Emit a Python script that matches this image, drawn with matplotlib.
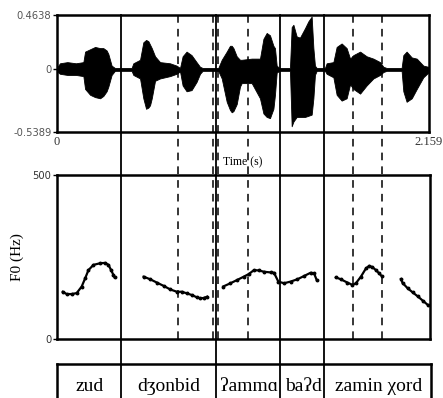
import matplotlib
matplotlib.use("Agg")
import matplotlib.pyplot as plt

SERIF = ["Liberation Serif", "DejaVu Serif"]
SANS = ["DejaVu Sans"]

# waveform envelope: time (s), upper and lower amplitude
wave_t = [0.000, 0.008, 0.017, 0.060, 0.110, 0.153, 0.163, 0.192, 0.221, 0.250,
          0.269, 0.288, 0.298, 0.317, 0.336, 0.433, 0.443, 0.482, 0.501, 0.517,
          0.530, 0.540, 0.550, 0.569, 0.598, 0.656, 0.694, 0.714, 0.729, 0.752,
          0.781, 0.810, 0.830, 0.845, 0.936, 0.956, 0.985, 1.004, 1.014, 1.024,
          1.043, 1.062, 1.072, 1.130, 1.178, 1.198, 1.217, 1.236, 1.256, 1.265,
          1.275, 1.290, 1.352, 1.362, 1.372, 1.391, 1.410, 1.439, 1.459, 1.478,
          1.488, 1.497, 1.507, 1.555, 1.565, 1.604, 1.623, 1.652, 1.681, 1.701,
          1.720, 1.759, 1.797, 1.836, 1.875, 1.894, 1.913, 2.000, 2.010, 2.029,
          2.059, 2.088, 2.126, 2.155, 2.159]
wave_hi = [0.01, 0.03, 0.05, 0.06, 0.05, 0.06, 0.15, 0.17, 0.19, 0.18,
           0.18, 0.16, 0.13, 0.03, 0.01, 0.01, 0.05, 0.08, 0.23, 0.25,
           0.24, 0.21, 0.18, 0.11, 0.06, 0.05, 0.03, 0.01, 0.11, 0.15,
           0.12, 0.06, 0.02, 0.01, 0.01, 0.08, 0.15, 0.20, 0.20, 0.18,
           0.11, 0.08, 0.08, 0.09, 0.09, 0.26, 0.31, 0.29, 0.20, 0.18,
           0.03, 0.01, 0.01, 0.36, 0.38, 0.28, 0.27, 0.35, 0.41, 0.45,
           0.18, 0.03, 0.01, 0.01, 0.05, 0.06, 0.19, 0.22, 0.18, 0.09,
           0.12, 0.15, 0.11, 0.09, 0.06, 0.02, 0.01, 0.01, 0.12, 0.15,
           0.10, 0.09, 0.03, 0.02, 0.01]
wave_lo = [-0.01, -0.03, -0.04, -0.05, -0.05, -0.06, -0.17, -0.22, -0.24, -0.25,
           -0.23, -0.19, -0.15, -0.05, -0.015, -0.015, -0.05, -0.08, -0.25, -0.34,
           -0.33, -0.31, -0.25, -0.10, -0.08, -0.06, -0.04, -0.02, -0.14, -0.19,
           -0.18, -0.11, -0.04, -0.015, -0.015, -0.08, -0.28, -0.35, -0.37, -0.36,
           -0.30, -0.15, -0.12, -0.12, -0.25, -0.38, -0.41, -0.42, -0.34, -0.22,
           -0.03, -0.015, -0.015, -0.49, -0.45, -0.41, -0.41, -0.41, -0.40, -0.39,
           -0.25, -0.05, -0.015, -0.015, -0.04, -0.07, -0.22, -0.27, -0.25, -0.13,
           -0.17, -0.21, -0.14, -0.08, -0.05, -0.025, -0.015, -0.015, -0.19, -0.28,
           -0.25, -0.17, -0.07, -0.03, -0.01]

# pitch contours (time s, F0 Hz), one per voiced stretch
f0_t = [
    [0.033, 0.056, 0.085, 0.114, 0.143, 0.163, 0.182, 0.211, 0.250, 0.279, 0.298, 0.313, 0.327, 0.333],
    [0.501, 0.540, 0.578, 0.617, 0.656, 0.694, 0.723, 0.752, 0.781, 0.810, 0.830, 0.849, 0.869],
    [0.962, 1.004, 1.043, 1.081, 1.110, 1.140, 1.169, 1.198, 1.236, 1.256, 1.281, 1.314, 1.352,
     1.391, 1.430, 1.468, 1.488, 1.503],
    [1.614, 1.643, 1.681, 1.710, 1.730, 1.759, 1.788, 1.807, 1.826, 1.846, 1.865, 1.879],
    [1.991, 2.000, 2.029, 2.059, 2.088, 2.117, 2.146],
]
f0_hz = [
    [144, 137, 137, 140, 160, 185, 210, 226, 231, 232, 226, 210, 195, 188],
    [190, 182, 172, 162, 151, 144, 144, 139, 134, 127, 124, 125, 129],
    [160, 170, 180, 190, 198, 210, 209, 205, 203, 202, 175, 170, 175, 182, 192, 202, 200, 180],
    [188, 182, 172, 165, 170, 190, 215, 223, 219, 210, 200, 192],
    [183, 171, 155, 142, 130, 117, 104],
]

word_bounds = [0.0, 0.371, 0.920, 1.294, 1.550, 2.159]
words = ["zud", "d\u0292onbid", "\u0294amm\u0251", "ba\u0294d", "zamin \u03c7ord"]
syll_bounds = [0.702, 0.903, 0.937, 1.109, 1.718, 1.886]

t_end = 2.159
y_min, y_max = -0.5389, 0.4638

fig = plt.figure(figsize=(4.43, 3.98), dpi=100)
L, W = 57 / 443, 372 / 443

# waveform
ax1 = fig.add_axes([L, 1 - 132 / 398, W, 117 / 398])
ax1.fill_between(wave_t, wave_lo, wave_hi, color="black", lw=0.6)
ax1.set_xlim(0, t_end)
ax1.set_ylim(y_min, y_max)
ax1.set_yticks([y_max, 0, y_min])
ax1.set_yticklabels(["0.4638", "0", "-0.5389"], family=SANS, fontsize=7.2, color="#555555")
ax1.set_xticks([0, t_end])
ax1.set_xticklabels(["0", "2.159"], family=SERIF, fontsize=9, color="#333333")
ax1.tick_params(axis="y", length=3, width=1, pad=1)
ax1.tick_params(axis="x", length=0, pad=3)
ax1.text(t_end / 2, -0.80, "Time (s)", family=SERIF, fontsize=8.5, ha="center", va="center")
for s in ax1.spines.values():
    s.set_linewidth(1.8)

# pitch
ax2 = fig.add_axes([L, 1 - 339 / 398, W + 1 / 443, 164 / 398])
for tt, hz in zip(f0_t, f0_hz):
    ax2.plot(tt, hz, color="black", lw=1.6, marker="o", ms=1.8)
ax2.set_xlim(0, t_end)
ax2.set_ylim(0, 500)
ax2.set_yticks([0, 500])
ax2.set_yticklabels(["0", "500"], family=SANS, fontsize=7.2, color="#333333")
ax2.set_xticks([])
ax2.tick_params(axis="y", length=3, width=1, pad=1)
ax2.set_ylabel("F0 (Hz)", family=SERIF, fontsize=11, labelpad=6)
for s in ax2.spines.values():
    s.set_linewidth(1.8)

# text tier
ax3 = fig.add_axes([L, -0.02, W + 2 / 443, 0.02 + 34 / 398])
ax3.set_xlim(0, t_end)
ax3.set_ylim(0, 1)
ax3.set_xticks([])
ax3.set_yticks([])
for s in ax3.spines.values():
    s.set_linewidth(1.8)
for i, w in enumerate(words):
    ax3.text((word_bounds[i] + word_bounds[i + 1]) / 2, 0.47, w, family=SERIF,
             fontsize=14, ha="center", va="center")

# boundary lines running across the tiers
ov = fig.add_axes([L, 0, W, 1], facecolor="none")
ov.set_xlim(0, t_end)
ov.set_ylim(0, 1)
ov.axis("off")
top = 1 - 15 / 398
f0_bottom = 1 - 339 / 398
for b in word_bounds[1:-1]:
    ov.plot([b, b], [0, top], color="black", lw=1.3)
for b in syll_bounds:
    ov.plot([b, b], [f0_bottom, top], color="black", lw=1.1, ls=(0, (5, 4)))

fig.savefig("out.png", dpi=100)
